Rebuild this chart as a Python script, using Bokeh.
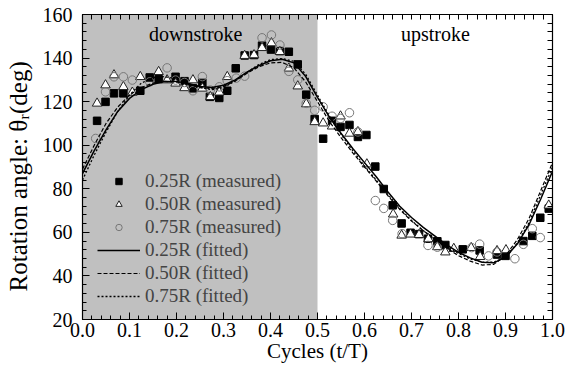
from bokeh.plotting import figure
from bokeh.models import (BoxAnnotation, FixedTicker, PrintfTickFormatter, LinearAxis,
                          Legend, LegendItem, Label, Range1d)
from bokeh.embed import file_html
from bokeh.resources import INLINE

# ---------------- data ----------------
sq_x = [0.031, 0.049, 0.067, 0.087, 0.123, 0.143, 0.162, 0.198, 0.217, 0.235, 0.255, 0.271,
        0.291, 0.308, 0.326, 0.345, 0.365, 0.382, 0.401, 0.420, 0.439, 0.458, 0.476, 0.494,
        0.512, 0.531, 0.549, 0.568, 0.586, 0.604, 0.623, 0.641, 0.660, 0.679, 0.698, 0.716,
        0.735, 0.755, 0.772, 0.809, 0.845, 0.882, 0.900, 0.938, 0.957, 0.974, 0.992]
sq_y = [111.2, 119.9, 123.8, 123.8, 125.0, 131.1, 130.3, 131.4, 129.4, 126.1, 128.6, 122.2,
        121.7, 125.0, 135.3, 141.2, 141.4, 145.7, 143.9, 143.2, 142.9, 137.1, 123.2, 112.0,
        103.0, 111.2, 108.4, 109.3, 103.8, 104.7, 90.2, 79.9, 72.4, 64.1, 59.8, 59.2,
        57.1, 55.9, 54.2, 52.2, 51.7, 49.8, 49.2, 56.0, 58.4, 66.7, 70.9]

tri_x = [0.031, 0.049, 0.067, 0.087, 0.106, 0.123, 0.162, 0.180, 0.198, 0.217, 0.235, 0.255,
         0.272, 0.291, 0.308, 0.345, 0.365, 0.382, 0.402, 0.420, 0.439, 0.458, 0.476, 0.494,
         0.512, 0.531, 0.549, 0.568, 0.586, 0.605, 0.661, 0.679, 0.698, 0.716, 0.736, 0.755,
         0.772, 0.790, 0.827, 0.846, 0.882, 0.901, 0.992]
tri_y = [119.2, 127.6, 132.2, 126.8, 124.2, 131.4, 133.7, 129.9, 128.4, 126.3, 129.9, 126.1,
         122.2, 124.3, 131.4, 141.1, 141.4, 144.7, 146.9, 142.9, 135.3, 127.1, 118.9, 110.7,
         110.1, 108.7, 113.3, 105.4, 106.1, 91.3, 68.3, 58.6, 59.1, 58.9, 57.0, 53.3,
         50.9, 52.5, 52.9, 48.8, 51.5, 51.9, 72.4]

cir_x = [0.028, 0.049, 0.067, 0.087, 0.106, 0.143, 0.180, 0.198, 0.217, 0.235, 0.255, 0.272,
         0.291, 0.308, 0.327, 0.345, 0.382, 0.402, 0.420, 0.439, 0.458, 0.476, 0.494, 0.512,
         0.531, 0.549, 0.568, 0.586, 0.623, 0.641, 0.660, 0.680, 0.735, 0.755, 0.828, 0.845,
         0.864, 0.882, 0.920, 0.938, 0.957, 0.974]
cir_y = [103.1, 124.5, 131.4, 131.4, 129.9, 129.1, 135.5, 129.9, 128.8, 125.0, 131.5, 125.3,
         126.8, 129.6, 130.8, 131.7, 149.3, 150.6, 146.0, 133.9, 130.0, 119.2, 116.0, 117.6,
         113.3, 112.3, 114.9, 106.1, 74.6, 71.0, 65.5, 59.4, 54.0, 53.2, 53.0, 54.6,
         49.2, 51.0, 47.9, 54.5, 61.7, 57.6]

fit_x = [0.0, 0.025, 0.05, 0.075, 0.1, 0.125, 0.15, 0.175, 0.2, 0.225, 0.25, 0.275, 0.3,
         0.325, 0.35, 0.375, 0.4, 0.425, 0.45, 0.475, 0.5, 0.525, 0.55, 0.575, 0.6, 0.625,
         0.65, 0.675, 0.7, 0.725, 0.75, 0.775, 0.8, 0.825, 0.85, 0.875, 0.9, 0.925, 0.95,
         0.975, 1.0]
fit25 = [87.0, 97.5, 107.0, 115.5, 121.5, 125.5, 128.0, 129.3, 129.3, 128.3, 127.0, 126.5,
         127.5, 130.0, 133.5, 136.5, 138.8, 139.5, 137.8, 131.5, 122.0, 113.0, 105.5, 98.5,
         92.0, 85.5, 78.5, 72.0, 66.8, 62.3, 58.3, 54.3, 50.8, 48.3, 46.3, 46.0, 48.6, 54.6,
         63.5, 75.3, 88.0]
fit50 = [89.0, 100.0, 110.0, 117.5, 123.0, 126.5, 128.5, 129.3, 129.0, 127.8, 126.5, 126.0,
         127.0, 129.5, 133.0, 136.0, 137.8, 138.0, 135.5, 129.0, 120.0, 111.0, 103.5, 96.5,
         90.0, 83.5, 76.8, 70.5, 65.2, 60.8, 56.8, 52.8, 49.3, 46.8, 45.0, 45.3, 49.3, 56.6,
         66.3, 79.2, 92.0]
fit75 = [84.0, 95.5, 106.0, 115.5, 123.0, 128.5, 131.0, 131.5, 130.3, 128.3, 126.5, 125.5,
         126.5, 129.5, 133.5, 137.0, 139.3, 139.8, 138.5, 132.5, 123.0, 113.5, 105.0, 97.5,
         90.5, 84.0, 77.3, 71.0, 65.5, 60.8, 56.8, 53.3, 50.3, 47.8, 46.3, 46.3, 48.6, 55.1,
         64.4, 77.3, 90.0]

x_ticks = [0.0, 0.1, 0.2, 0.3, 0.4, 0.5, 0.6, 0.7, 0.8, 0.9, 1.0]
x_minor = [i / 50 for i in range(51)]
y_ticks = [20, 40, 60, 80, 100, 120, 140, 160]
y_minor = list(range(20, 161, 4))

FONT = "Liberation Serif"
NAN = float("nan")

p = figure(width=565, height=378, output_backend="svg", toolbar_location=None,
           x_range=Range1d(0, 1), y_range=Range1d(20, 160),
           min_border_left=82, min_border_right=13, min_border_top=14, min_border_bottom=59)
p.grid.visible = False
p.outline_line_color = "black"
p.background_fill_color = "white"
p.border_fill_color = "white"

p.add_layout(BoxAnnotation(left=0, right=0.5, fill_color="#c0c0c0", fill_alpha=1.0,
                           line_alpha=0, level="underlay"))

def base_style(ax):
    ax.axis_line_color = "black"
    ax.axis_line_width = 1.2
    ax.major_tick_out = 0
    ax.minor_tick_out = 0
    ax.major_tick_line_color = "black"
    ax.minor_tick_line_color = "black"
    ax.major_label_text_font = FONT
    ax.axis_label_text_font = FONT
    ax.axis_label_text_font_style = "normal"
    ax.axis_label_text_color = "black"
    ax.major_label_text_color = "black"
    ax.major_label_text_font_size = "20px"

xa = p.xaxis[0]
base_style(xa)
xa.ticker = FixedTicker(ticks=x_ticks, minor_ticks=x_minor)
xa.major_tick_in = 7
xa.minor_tick_in = 4
xa.formatter = PrintfTickFormatter(format="%.1f")
xa.axis_label = "Cycles (t/T)"
xa.axis_label_text_font_size = "21px"
xa.major_label_standoff = 3
xa.axis_label_standoff = -1

ya = p.yaxis[0]
base_style(ya)
ya.ticker = FixedTicker(ticks=y_ticks, minor_ticks=y_minor)
ya.major_tick_in = 7
ya.minor_tick_in = 4
ya.axis_label = "Rotation angle: θᵣ(deg)\u00a0\u00a0\u00a0"
ya.axis_label_text_font_size = "25px"
ya.major_label_standoff = 10
ya.axis_label_standoff = 8

# mirrored tick marks on top and right (no labels)
top = LinearAxis(ticker=FixedTicker(ticks=[], minor_ticks=x_minor))
base_style(top)
top.minor_tick_in = 5
p.add_layout(top, "above")
right = LinearAxis(ticker=FixedTicker(ticks=[], minor_ticks=y_minor))
base_style(right)
right.minor_tick_in = 5
p.add_layout(right, "right")

r_sq = p.scatter(sq_x, sq_y, marker="square", size=7.5, fill_color="black", line_color="black")
r_tri = p.scatter(tri_x, tri_y, marker="triangle", size=9.5, fill_color="white",
                  line_color="#222222", line_width=1)
r_cir = p.scatter(cir_x, cir_y, marker="circle", size=8.5, fill_color=None,
                  line_color="#777777", line_width=1)
r_f25 = p.line(fit_x, fit25, line_color="black", line_width=1.5)
r_f50 = p.line(fit_x, fit50, line_color="black", line_width=1.2, line_dash="4 2")
r_f75 = p.line(fit_x, fit75, line_color="black", line_width=1.3, line_dash="2 2")

# legend-only glyphs (smaller markers, as in the reference legend); NaN -> not drawn in plot
l_sq = p.scatter([NAN], [NAN], marker="square", size=6, fill_color="black", line_color="black")
l_tri = p.scatter([NAN], [NAN], marker="triangle", size=7, fill_color="white",
                  line_color="#222222", line_width=1)
l_cir = p.scatter([NAN], [NAN], marker="circle", size=6.5, fill_color=None,
                  line_color="#777777", line_width=1)

legend = Legend(items=[
    LegendItem(label="0.25R (measured)", renderers=[l_sq]),
    LegendItem(label="0.50R (measured)", renderers=[l_tri]),
    LegendItem(label="0.75R (measured)", renderers=[l_cir]),
    LegendItem(label="0.25R (fitted)", renderers=[r_f25]),
    LegendItem(label="0.50R (fitted)", renderers=[r_f50]),
    LegendItem(label="0.75R (fitted)", renderers=[r_f75]),
], location=(15, 12))
legend.background_fill_alpha = 0
legend.border_line_alpha = 0
legend.padding = 0
legend.margin = 0
legend.spacing = 0
legend.label_height = 23
legend.glyph_height = 16
legend.glyph_width = 43
legend.label_standoff = 5
legend.label_text_font = FONT
legend.label_text_font_size = "19px"
p.add_layout(legend)

for tx, txt in [(0.241, "downstroke"), (0.751, "upstroke")]:
    p.add_layout(Label(x=tx, y=151.0, text=txt, text_align="center", text_baseline="alphabetic",
                       text_font=FONT, text_font_size="20px", text_color="black"))

open("out.html", "w").write(file_html(p, INLINE))
